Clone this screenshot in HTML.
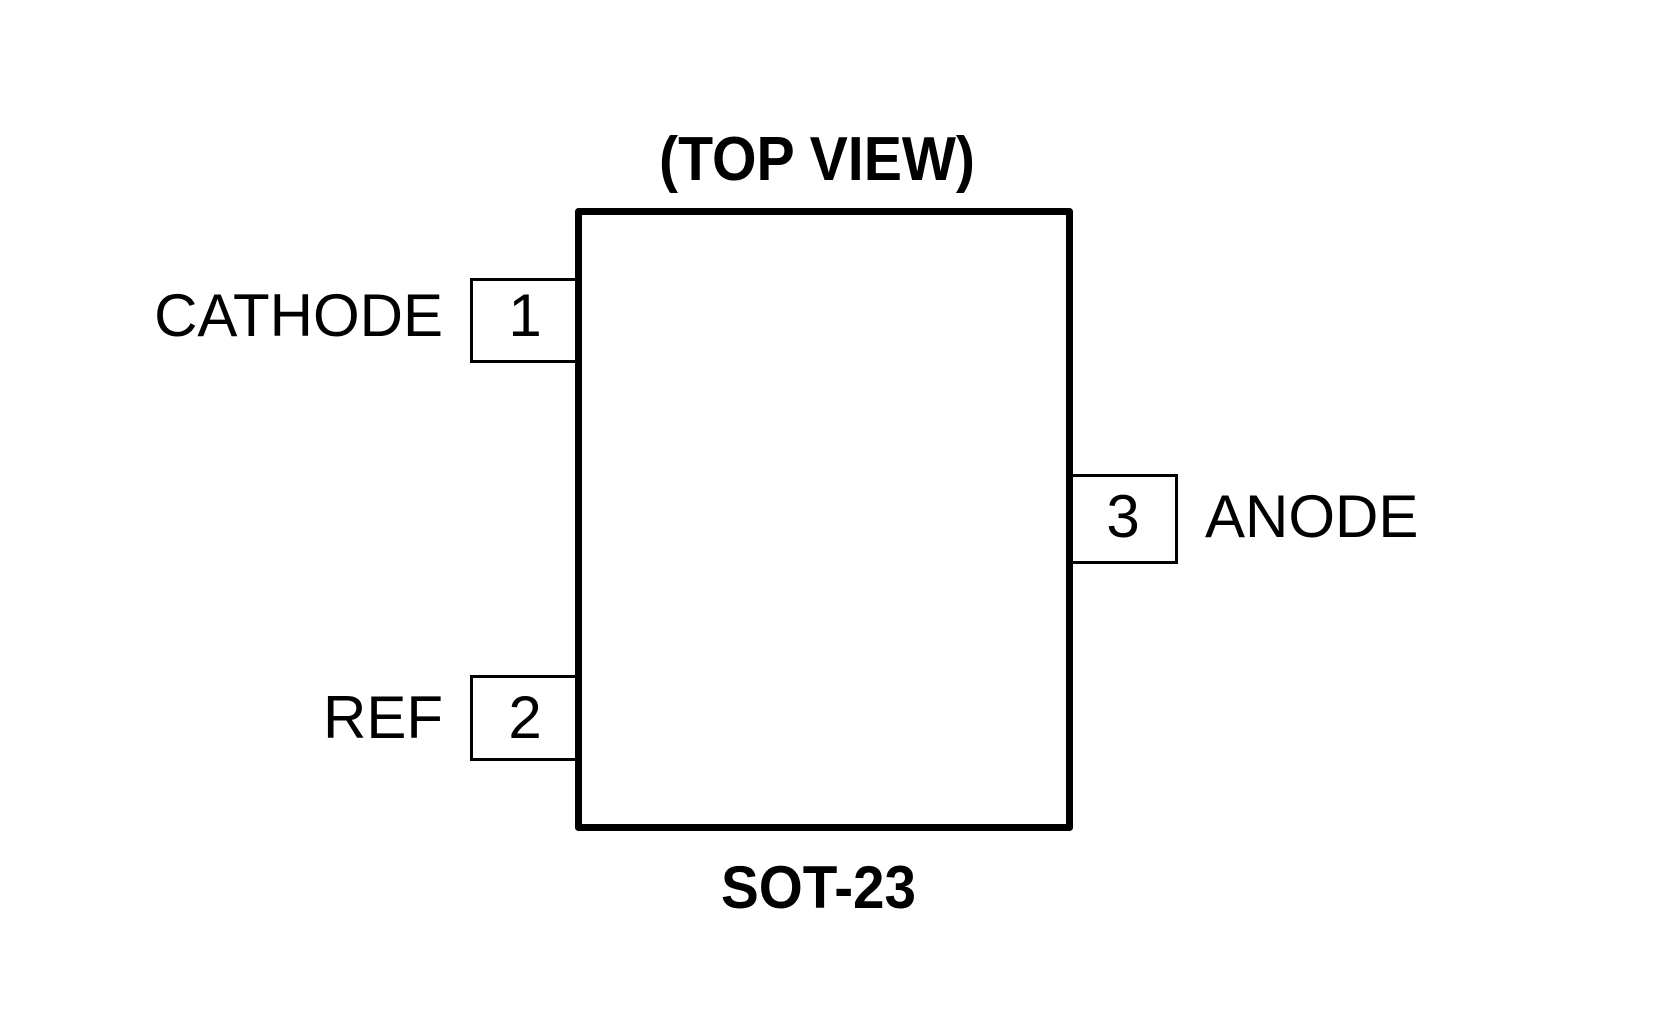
<!DOCTYPE html>
<html><head><meta charset="utf-8"><style>
html,body{margin:0;padding:0;background:#fff;width:1654px;height:1036px;overflow:hidden}
svg{display:block}
text{font-family:"Liberation Sans",Arial,sans-serif;fill:#000}
</style></head><body>
<svg width="1654" height="1036" viewBox="0 0 1654 1036" xmlns="http://www.w3.org/2000/svg">
<rect x="0" y="0" width="1654" height="1036" fill="#fff"/>
<rect x="471.5" y="279.5" width="107" height="82" fill="#fff" stroke="#000" stroke-width="3"/>
<rect x="471.5" y="676.5" width="107" height="83" fill="#fff" stroke="#000" stroke-width="3"/>
<rect x="1069" y="475.5" width="107.5" height="87" fill="#fff" stroke="#000" stroke-width="3"/>
<rect x="578.5" y="211.5" width="491" height="616" fill="none" stroke="#000" stroke-width="7" stroke-linejoin="round"/>
<text x="525" y="336" font-size="60" text-anchor="middle">1</text>
<text x="525" y="738" font-size="60" text-anchor="middle">2</text>
<text x="1123" y="537" font-size="60" text-anchor="middle">3</text>
<text x="443" y="336" font-size="60" text-anchor="end">CATHODE</text>
<text x="443" y="738" font-size="60" text-anchor="end">REF</text>
<text x="1205" y="537" font-size="60">ANODE</text>
<text x="659" y="180" font-size="62" font-weight="bold" textLength="316" lengthAdjust="spacingAndGlyphs">(TOP VIEW)</text>
<text x="721" y="908" font-size="60" font-weight="bold" textLength="195" lengthAdjust="spacingAndGlyphs">SOT-23</text>
</svg>
</body></html>
